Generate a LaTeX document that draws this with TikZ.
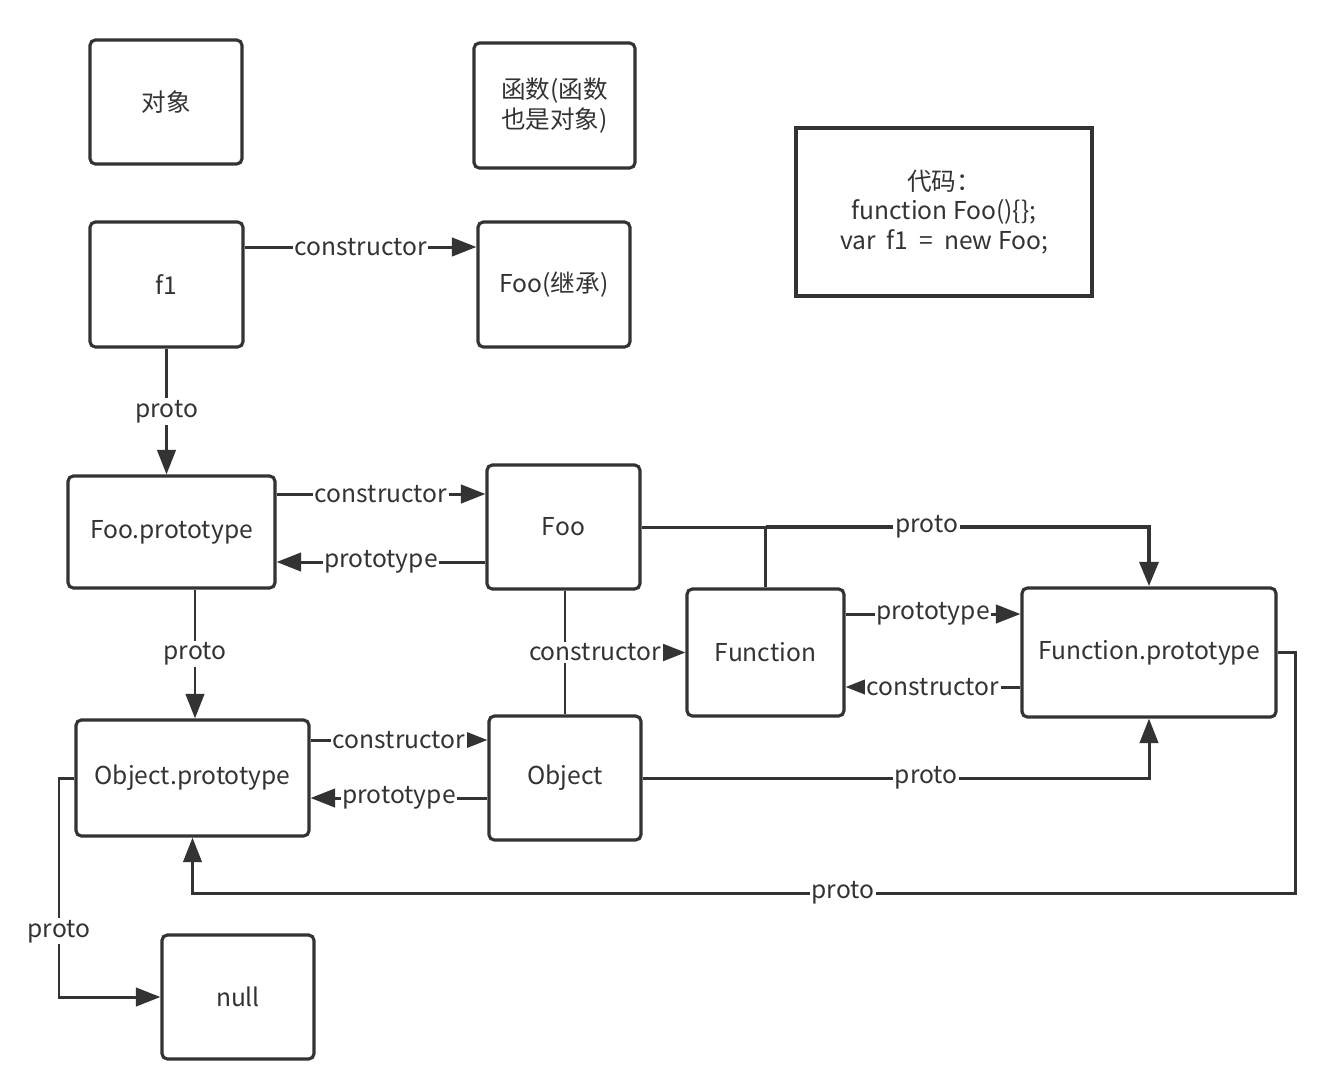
\documentclass[tikz,border=0pt]{standalone}
\usepackage{fontspec}
\setmainfont{Noto Sans CJK SC}
\usepackage{tikz}
\usetikzlibrary{calc,arrows.meta}
\definecolor{ink}{HTML}{333333}

\begin{document}
\begin{tikzpicture}[x=0.02cm,y=-0.02cm,
  every node/.style={font=\fontsize{14}{17}\selectfont, text=ink},
  box/.style={draw=ink, line width=1.8pt, rounded corners=3pt, align=center, inner sep=2pt},
  link/.style={draw=ink, line width=1.7pt},
  arr/.style={link, -{Triangle[length=14pt,width=10.5pt]}},
  lbl/.style={fill=white, inner sep=1pt}]
\useasboundingbox (0,0) rectangle (1326,1090);
% legend and code
\node[box, minimum width=3.04cm, minimum height=2.48cm] (obj) at (166,102) {对象};
\node[box, minimum width=3.22cm, minimum height=2.5cm] (fn) at (554.5,105.5) {函数(函数\\也是对象)};
\node[box, sharp corners, minimum width=5.92cm, minimum height=3.36cm] (code) at (944,212) {代码：\\function Foo()\{\};\\var\ \ f1 \ = \ new Foo;};
% objects
\node[box, minimum width=3.06cm, minimum height=2.5cm] (f1) at (166.5,284.5) {f1};
\node[box, minimum width=3.04cm, minimum height=2.5cm] (fooinh) at (554,284.5) {Foo(继承)};
\node[box, minimum width=4.14cm, minimum height=2.24cm] (fooP) at (171.5,532) {Foo.prototype};
\node[box, minimum width=3.06cm, minimum height=2.48cm] (foo) at (563.5,527) {Foo};
\node[box, minimum width=3.14cm, minimum height=2.54cm] (func) at (765.5,652.5) {Function};
\node[box, minimum width=5.08cm, minimum height=2.58cm] (funcP) at (1149,652.5) {Function.prototype};
\node[box, minimum width=4.66cm, minimum height=2.32cm] (objP) at (192.5,778) {Object.prototype};
\node[box, minimum width=3.04cm, minimum height=2.48cm] (object) at (565,778) {Object};
\node[box, minimum width=3.04cm, minimum height=2.48cm] (null) at (238,997) {null};
% helper points
\coordinate (jn) at (func.north |- foo.east);
\coordinate (jc) at (object.north |- func.west);
\coordinate (c1) at (1295,893);
\coordinate (c2) at (59,997);
% connectors
\draw[arr] (f1.east |- 0,247) -- node[lbl]{constructor} (fooinh.west |- 0,247);
\draw[arr] (f1.south) -- node[lbl]{proto} (f1.south |- fooP.north);
\draw[arr] (fooP.east |- 0,494) -- node[lbl]{constructor} (foo.west |- 0,494);
\draw[arr] (foo.west |- 0,562) -- node[lbl]{prototype} (fooP.east |- 0,562);
\draw[arr] (fooP.south -| 195,0) -- node[lbl]{proto} (objP.north -| 195,0);
\draw[link] (foo.east) -- (jn);
\draw[link] (func.north) -- (jn);
\draw[arr, line width=2.8pt] (jn) -| node[lbl, pos=0.21]{proto} (funcP.north);
\draw[link] (object.north) -- (object.north |- foo.south);
\draw[arr] (jc) -- node[lbl, pos=0.25]{constructor} (func.west);
\draw[arr] (func.east |- 0,614) -- node[lbl]{prototype} (funcP.west |- 0,614);
\draw[arr] (funcP.west |- 0,687) -- node[lbl]{constructor} (func.east |- 0,687);
\draw[arr] (objP.east |- 0,740) -- node[lbl]{constructor} (object.west |- 0,740);
\draw[arr] (object.west |- 0,798) -- node[lbl]{prototype} (objP.east |- 0,798);
\draw[arr] (object.east) -| node[lbl, pos=0.28]{proto} (funcP.south);
\draw[arr] (funcP.east) -| (c1) -| node[lbl, pos=0.205]{proto} (objP.south);
\draw[arr] (objP.west) -| node[lbl, pos=0.85]{proto} (c2) -- (null.west);
\end{tikzpicture}
\end{document}
